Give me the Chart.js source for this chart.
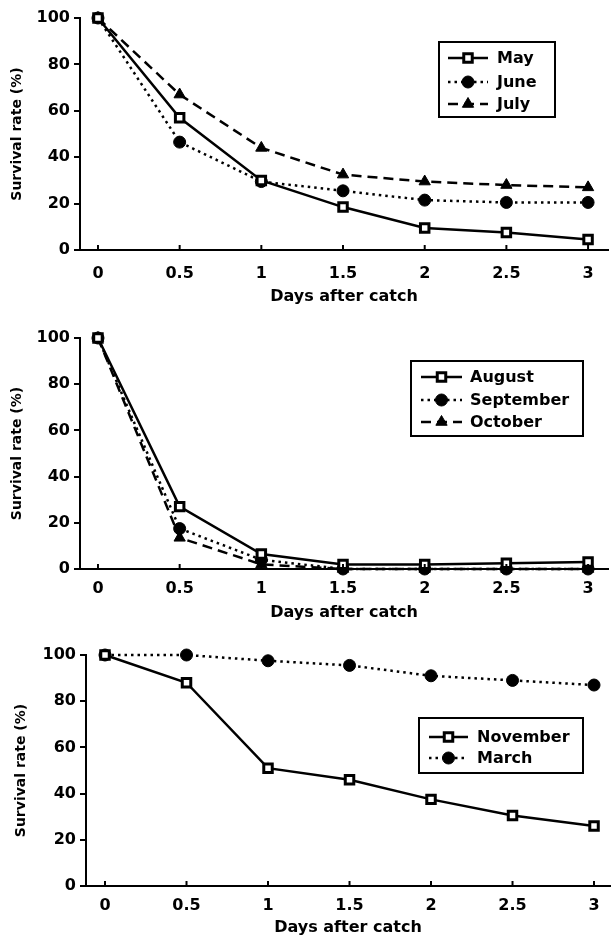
<!DOCTYPE html>
<html>
<head>
<meta charset="utf-8">
<script src="https://cdn.jsdelivr.net/npm/chart.js@4"></script>
<style>
  html, body { margin: 0; padding: 0; background: #fff; }
  body { width: 611px; height: 937px; position: relative; overflow: hidden; }
  canvas { position: absolute; left: 0; }
</style>
</head>
<body>
<canvas id="chart1" width="611" height="310" style="top:0px"></canvas>
<canvas id="chart2" width="611" height="315" style="top:310px"></canvas>
<canvas id="chart3" width="611" height="312" style="top:625px"></canvas>
<script>
// days after catch
const days = [0, 0.5, 1, 1.5, 2, 2.5, 3];
const xTicks = [0, 0.5, 1, 1.5, 2, 2.5, 3];
const yTicks = [0, 20, 40, 60, 80, 100];

// survival rate (%)
const may = [100, 57, 30, 18.5, 9.5, 7.5, 4.5];
const june = [100, 46.5, 29.5, 25.5, 21.5, 20.5, 20.5];
const july = [100, 67, 44, 32.5, 29.5, 28, 27];

const august = [100, 27, 6.5, 2, 2, 2.5, 3];
const september = [100, 17.5, 4, 0, 0, 0, 0];
const october = [100, 13.5, 2, 0, 0, 0, 0];

const november = [100, 88, 51, 46, 37.5, 30.5, 26];
const march = [100, 100, 97.5, 95.5, 91, 89, 87];

const FONT = "'DejaVu Sans', sans-serif";

const solidSquare = {
    borderColor: '#000', borderWidth: 2.5, borderDash: [],
    pointStyle: 'rect', pointRadius: 6, pointBackgroundColor: '#fff',
    pointBorderColor: '#000', pointBorderWidth: 3
};
const dottedCircle = {
    borderColor: '#000', borderWidth: 2.5, borderDash: [2.5, 4],
    pointStyle: 'circle', pointRadius: 6, pointBackgroundColor: '#000',
    pointBorderColor: '#000', pointBorderWidth: 1
};
const dashedTriangle = {
    borderColor: '#000', borderWidth: 2.5, borderDash: [10, 6],
    pointStyle: 'triangle', pointRadius: 6.5, pointBackgroundColor: '#000',
    pointBorderColor: '#000', pointBorderWidth: 1
};

// inward tick marks on the x axis + boxed legend
const extras = {
    id: 'extras',
    afterDraw(chart, args, opts) {
        const ctx = chart.ctx;
        const xs = chart.scales.x;
        const bottom = chart.chartArea.bottom;
        ctx.save();
        ctx.strokeStyle = '#000';
        ctx.lineWidth = 2;
        ctx.setLineDash([]);
        xTicks.forEach(v => {
            const px = xs.getPixelForValue(v);
            ctx.beginPath();
            ctx.moveTo(px, bottom);
            ctx.lineTo(px, bottom - 5);
            ctx.stroke();
        });

        const b = opts.box;
        ctx.lineWidth = 2;
        ctx.strokeRect(b.x, b.y, b.w, b.h);
        chart.data.datasets.forEach((ds, i) => {
            const y = opts.rows[i];
            ctx.beginPath();
            ctx.setLineDash(ds.borderDash);
            ctx.lineWidth = ds.borderWidth;
            ctx.moveTo(opts.lineFrom, y);
            ctx.lineTo(opts.lineTo, y);
            ctx.stroke();
            ctx.setLineDash([]);
            ctx.fillStyle = ds.pointBackgroundColor;
            ctx.strokeStyle = ds.pointBorderColor;
            ctx.lineWidth = ds.pointBorderWidth;
            Chart.helpers.drawPoint(ctx, {
                pointStyle: ds.pointStyle, radius: ds.pointRadius,
                rotation: 0, borderWidth: ds.pointBorderWidth
            }, (opts.lineFrom + opts.lineTo) / 2, y);
            ctx.strokeStyle = '#000';
            ctx.fillStyle = '#000';
            ctx.font = 'bold 16px ' + FONT;
            ctx.textBaseline = 'middle';
            ctx.textAlign = 'left';
            ctx.fillText(ds.label, opts.textX, y + 1);
        });
        ctx.restore();
    }
};

function makeChart(id, series, cfg) {
    new Chart(document.getElementById(id), {
        type: 'line',
        data: {
            datasets: series.map(s => Object.assign({
                label: s.label,
                data: days.map((d, i) => ({ x: d, y: s.values[i] })),
                tension: 0,
                clip: false,
                fill: false
            }, s.style))
        },
        options: {
            responsive: false,
            animation: false,
            events: [],
            layout: {
                autoPadding: false,
                padding: { top: cfg.top, left: 0, right: cfg.right, bottom: 0 }
            },
            plugins: {
                legend: { display: false },
                tooltip: { enabled: false },
                extras: cfg.legend
            },
            scales: {
                x: {
                    type: 'linear',
                    min: cfg.xMin,
                    max: cfg.xMax,
                    afterBuildTicks: s => { s.ticks = xTicks.map(v => ({ value: v })); },
                    afterFit: s => {
                        s.height = cfg.xHeight;
                        s.paddingLeft = 0;
                        s.paddingRight = 0;
                    },
                    grid: { display: false },
                    border: { display: true, color: '#000', width: 2 },
                    ticks: {
                        color: '#000', padding: cfg.xPad, maxRotation: 0,
                        font: { family: FONT, size: 16, weight: 'bold' },
                        callback: v => String(v)
                    },
                    title: {
                        display: true, text: 'Days after catch', color: '#000',
                        font: { family: FONT, size: 16, weight: 'bold' },
                        padding: { top: 0, bottom: cfg.titlePad }
                    }
                },
                y: {
                    min: 0,
                    max: 100,
                    afterBuildTicks: s => { s.ticks = yTicks.map(v => ({ value: v })); },
                    afterFit: s => { s.width = cfg.left; },
                    grid: {
                        display: true, drawOnChartArea: false, drawTicks: true,
                        tickLength: 6, color: '#000', lineWidth: 2
                    },
                    border: { display: true, color: '#000', width: 2 },
                    ticks: {
                        color: '#000', padding: 4,
                        font: { family: FONT, size: 16, weight: 'bold' }
                    },
                    title: {
                        display: true, text: 'Survival rate (%)', color: '#000',
                        font: { family: FONT, size: 14, weight: 'bold' },
                        padding: { top: cfg.yTitlePad, bottom: 0 }
                    }
                }
            }
        },
        plugins: [extras]
    });
}

makeChart('chart1', [
    { label: 'May', values: may, style: solidSquare },
    { label: 'June', values: june, style: dottedCircle },
    { label: 'July', values: july, style: dashedTriangle }
], {
    top: 18, left: 80, right: 3, xMin: -0.11, xMax: 3.122, xHeight: 60, xPad: 6,
    titlePad: 4, yTitlePad: 9,
    legend: { box: { x: 439, y: 42, w: 116, h: 75 }, rows: [58, 82, 104], lineFrom: 448, lineTo: 488, textX: 497 }
});

makeChart('chart2', [
    { label: 'August', values: august, style: solidSquare },
    { label: 'September', values: september, style: dottedCircle },
    { label: 'October', values: october, style: dashedTriangle }
], {
    top: 28, left: 80, right: 3, xMin: -0.11, xMax: 3.122, xHeight: 56, xPad: 2,
    titlePad: 3, yTitlePad: 9,
    legend: { box: { x: 411, y: 51, w: 172, h: 75 }, rows: [67, 90, 112], lineFrom: 421, lineTo: 462, textX: 470 }
});

makeChart('chart3', [
    { label: 'November', values: november, style: solidSquare },
    { label: 'March', values: march, style: dottedCircle }
], {
    top: 30, left: 86, right: 1, xMin: -0.1166, xMax: 3.098, xHeight: 51, xPad: 2,
    titlePad: 0, yTitlePad: 13,
    legend: { box: { x: 419, y: 93, w: 164, h: 55 }, rows: [112, 133], lineFrom: 429, lineTo: 468, textX: 477 }
});
</script>
</body>
</html>
